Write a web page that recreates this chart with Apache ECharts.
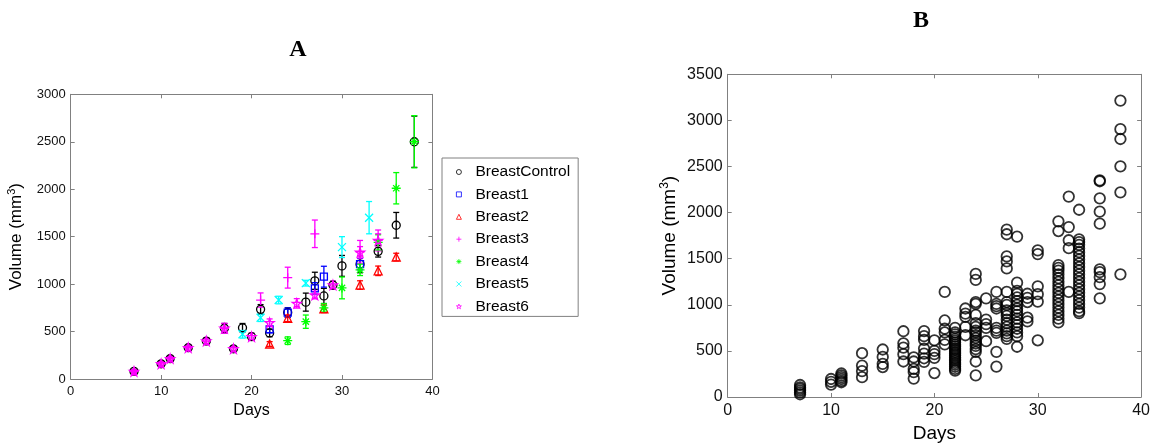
<!DOCTYPE html>
<html><head><meta charset="utf-8">
<script src="https://cdn.jsdelivr.net/npm/echarts@6/dist/echarts.min.js"></script>
<style>html,body{margin:0;padding:0;background:#fff}#c{width:1153px;height:448px}</style>
</head><body><div id="c"></div>
<script>
// ---------- Panel A: mean tumour volume per group, [day, volume, error] ----------
const breastControl = [[7,80,20],[10,160,25],[11,215,25],[13,330,30],[15,400,30],[17,535,50],[18,318,25],[19,540,45],[20,446,35],[21,734,50],[22,485,40],[24,700,50],[26,810,95],[27,1035,90],[28,875,80],[29,990,40],[30,1192,110],[32,1210,90],[34,1345,60],[36,1620,135],[38,2500,270]];
const breast1 = [[22,523,35],[24,699,50],[27,955,60],[28,1078,110],[32,1210,60]];
const breast2 = [[22,369,25],[24,640,35],[28,740,40],[32,990,45],[34,1140,50],[36,1285,40]];
const breast3 = [[7,80,20],[10,160,25],[11,215,25],[13,330,30],[15,400,30],[17,535,50],[21,832,75],[24,1068,110],[27,1530,145],[32,1340,120],[34,1460,110]];
const breast4 = [[24,404,40],[26,604,70],[28,750,45],[30,960,115],[32,1150,60],[34,1440,80],[36,2010,165],[38,2500,275]];
const breast5 = [[19,471,40],[21,646,40],[23,832,40],[26,1010,30],[30,1390,110],[33,1700,170]];
const breast6 = [[7,80,20],[10,160,25],[11,215,25],[13,330,30],[15,400,30],[17,535,50],[18,318,25],[20,446,35],[22,593,40],[25,797,50],[27,885,40],[29,990,40],[32,1335,60],[34,1460,70]];
const groupNames = ['BreastControl','Breast1','Breast2','Breast3','Breast4','Breast5','Breast6'];
const groupData = [breastControl, breast1, breast2, breast3, breast4, breast5, breast6];

// ---------- Panel B: individual measurements, volumes per day ----------
const bDay07 = [130,105,88,70,50,30];
const bDay10 = [195,165,135];
const bDay11 = [255,235,215,195,175,160];
const bDay13 = [475,340,280,215];
const bDay15 = [515,435,360,325];
const bDay17 = [713,582,535,464,385];
const bDay18 = [430,385,305,270,200];
const bDay19 = [715,660,620,525,470,420,380];
const bDay20 = [615,500,465,425,260];
const bDay21 = [1140,830,740,700,620,570];
const bDay22 = [750,700,680,655,630,612,590,568,550,528,510,488,470,450,428,410,392,370,350,328,305,285];
const bDay23 = [960,905,870,760,670];
const bDay24 = [1335,1270,1030,1010,890,800,760,720,700,670,640,610,580,555,520,490,385,235];
const bDay25 = [1070,840,790,750,605];
const bDay26 = [1140,1010,985,960,750,720,695,490,330];
const bDay27 = [1815,1765,1525,1470,1395,1140,1030,1000,940,910,880,840,800,760,720,690,660,630];
const bDay28 = [1740,1240,1150,1120,1080,1040,1000,960,930,890,850,810,780,740,700,660,545];
const bDay29 = [1120,1075,1030,860,820];
const bDay30 = [1590,1550,1200,1115,1035,615];
const bDay32 = [1905,1800,1430,1400,1370,1330,1290,1250,1210,1170,1130,1090,1050,1010,970,930,890,850,810];
const bDay33 = [2174,1843,1700,1614,1141];
const bDay34 = [2031,1710,1680,1650,1610,1570,1530,1490,1450,1410,1370,1330,1290,1250,1210,1170,1130,1090,1050,1010,970,930,910];
const bDay36 = [2350,2340,2155,2010,1880,1385,1355,1300,1225,1070];
const bDay38 = [3215,2905,2798,2502,2220,1330];
const bDays = [7,10,11,13,15,17,18,19,20,21,22,23,24,25,26,27,28,29,30,32,33,34,36,38];
const bVols = [bDay07,bDay10,bDay11,bDay13,bDay15,bDay17,bDay18,bDay19,bDay20,bDay21,bDay22,bDay23,bDay24,bDay25,bDay26,bDay27,bDay28,bDay29,bDay30,bDay32,bDay33,bDay34,bDay36,bDay38];

// axis ranges / tick labels
const xTicks = [0,10,20,30,40];
const yTicksA = [0,500,1000,1500,2000,2500,3000];
const yTicksB = [0,500,1000,1500,2000,2500,3000,3500];

// ---------- styles ----------
const FONT = 'Liberation Sans';
const AXIS_GRAY = '#808080';
const NOFILL = 'rgba(0,0,0,0)';
const colors = ['#000000','#0000ff','#ff0000','#ff00ff','#00ff00','#00ffff','#ff00ff'];
const symbols = [
  'circle',
  'rect',
  'triangle',
  'path://M5 0L5 10M0 5L10 5',
  'path://M5 0L5 10M0 5L10 5M1.5 1.5L8.5 8.5M1.5 8.5L8.5 1.5',
  'path://M0 0L10 10M0 10L10 0',
  'path://M5 0L6.12 3.45L9.76 3.45L6.82 5.59L7.94 9.05L5 6.91L2.06 9.05L3.18 5.59L0.24 3.45L3.88 3.45Z'
];
const symSizes = [8,7,8,9,9,8,9];

function errRender(color){
  return function(params, api){
    const x = api.value(0), y = api.value(1), e = api.value(2);
    const p1 = api.coord([x, y + e]), p2 = api.coord([x, y - e]);
    const w = 3;
    const st = {stroke: color, lineWidth: 1.3};
    return {type:'group', children:[
      {type:'line', shape:{x1:p1[0],y1:p1[1],x2:p2[0],y2:p2[1]}, style:st},
      {type:'line', shape:{x1:p1[0]-w,y1:p1[1],x2:p1[0]+w,y2:p1[1]}, style:st},
      {type:'line', shape:{x1:p2[0]-w,y1:p2[1],x2:p2[0]+w,y2:p2[1]}, style:st}
    ]};
  };
}
const plainNum = v => String(v);

function mainX(grid, nameGap, nameSize, labelSize){
  return {gridIndex:grid, type:'value', min:xTicks[0], max:xTicks[xTicks.length-1], interval:10, position:'bottom',
    axisLine:{show:true, onZero:false, lineStyle:{color:AXIS_GRAY, width:1}},
    axisTick:{show:true, inside:true, length:4, lineStyle:{color:AXIS_GRAY}},
    axisLabel:{color:'#111', fontSize:labelSize, fontFamily:FONT, margin:6, formatter:plainNum},
    splitLine:{show:false},
    name:'Days', nameLocation:'middle', nameGap:nameGap,
    nameTextStyle:{color:'#000', fontSize:nameSize, fontFamily:FONT}};
}
function topX(grid){
  return {gridIndex:grid, type:'value', min:xTicks[0], max:xTicks[xTicks.length-1], interval:10, position:'top',
    axisLine:{show:true, onZero:false, lineStyle:{color:AXIS_GRAY, width:1}},
    axisTick:{show:true, inside:true, length:4, lineStyle:{color:AXIS_GRAY}},
    axisLabel:{show:false}, splitLine:{show:false}};
}
function mainY(grid, ticks, nameGap, nameSize, labelSize){
  return {gridIndex:grid, type:'value', min:ticks[0], max:ticks[ticks.length-1], interval:500, position:'left',
    axisLine:{show:true, onZero:false, lineStyle:{color:AXIS_GRAY, width:1}},
    axisTick:{show:true, inside:true, length:4, lineStyle:{color:AXIS_GRAY}},
    axisLabel:{color:'#111', fontSize:labelSize, fontFamily:FONT, margin:5, formatter:plainNum},
    splitLine:{show:false},
    name:'Volume (mm{sup|3})', nameLocation:'middle', nameGap:nameGap, nameRotate:90,
    nameTextStyle:{color:'#000', fontSize:nameSize, fontFamily:FONT,
      rich:{sup:{fontSize:Math.round(nameSize*0.65), fontFamily:FONT, color:'#000', padding:[0,0,Math.round(nameSize*0.55),0]}}}};
}
function rightY(grid, ticks){
  return {gridIndex:grid, type:'value', min:ticks[0], max:ticks[ticks.length-1], interval:500, position:'right',
    axisLine:{show:true, onZero:false, lineStyle:{color:AXIS_GRAY, width:1}},
    axisTick:{show:true, inside:true, length:4, lineStyle:{color:AXIS_GRAY}},
    axisLabel:{show:false}, splitLine:{show:false}};
}

const series = [];
groupData.forEach((d, i) => {
  series.push({type:'custom', name:groupNames[i]+'-err', xAxisIndex:0, yAxisIndex:0,
    renderItem:errRender(colors[i]), data:d, encode:{x:0, y:1}, silent:true, clip:false});
  series.push({type:'scatter', name:groupNames[i], xAxisIndex:0, yAxisIndex:0,
    data:d.map(p => [p[0], p[1]]), symbol:symbols[i], symbolSize:symSizes[i],
    itemStyle:{color:NOFILL, borderColor:colors[i], borderWidth:1.3, opacity:1}});
});
const bPoints = [];
bDays.forEach((day, i) => bVols[i].forEach(v => bPoints.push([day, v])));
series.push({type:'scatter', name:'all', xAxisIndex:2, yAxisIndex:2, data:bPoints,
  symbol:'circle', symbolSize:10.5, itemStyle:{color:NOFILL, borderColor:'#000', borderWidth:1.8}});

const option = {
  backgroundColor:'#fff',
  animation:false,
  grid:[
    {left:70.7, top:94.3, width:361.7, height:284.7},
    {left:727.7, top:74.3, width:414.3, height:327.4}
  ],
  xAxis:[mainX(0, 24, 16, 13), topX(0), mainX(1, 27, 19, 16), topX(1)],
  yAxis:[mainY(0, yTicksA, 44, 17, 13), rightY(0, yTicksA), mainY(1, yTicksB, 47, 19, 16), rightY(1, yTicksB)],
  legend:{data:groupNames, orient:'vertical', left:442, top:158, itemWidth:5, itemHeight:5, itemGap:6.4,
    padding:[6,8,2,14], borderColor:AXIS_GRAY, borderWidth:1, backgroundColor:'#fff', selectedMode:false,
    itemStyle:{borderWidth:0.8},
    textStyle:{fontSize:15.5, fontFamily:FONT, color:'#000', lineHeight:16, padding:[0,0,0,9]}},
  graphic:[
    {type:'text', x:298, y:50, style:{text:'A', fontSize:24, fontWeight:'bold', fontFamily:'Liberation Serif', fill:'#000', textAlign:'center', textVerticalAlign:'middle'}},
    {type:'text', x:921, y:21, style:{text:'B', fontSize:24, fontWeight:'bold', fontFamily:'Liberation Serif', fill:'#000', textAlign:'center', textVerticalAlign:'middle'}}
  ],
  series:series
};
const chart = echarts.init(document.getElementById('c'), null, {renderer:'canvas'});
chart.setOption(option);
</script></body></html>
